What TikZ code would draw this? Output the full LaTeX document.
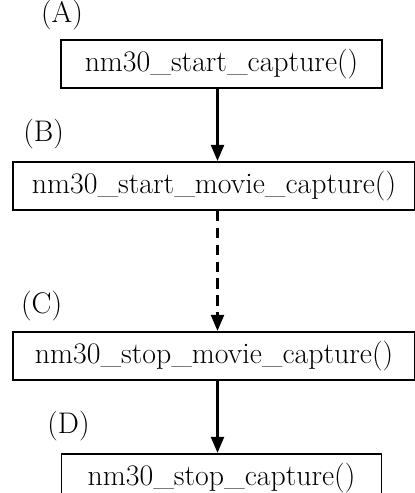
\documentclass[tikz,border=0pt]{standalone}
\usetikzlibrary{arrows.meta,positioning}

\begin{document}
\begin{tikzpicture}[>={Triangle[length=0.4cm,width=0.32cm]}, line width=1.4pt, node distance=1.8cm]
    \tikzstyle{fnbox}=[draw=black,rectangle,minimum height=1.2cm,inner sep=0pt,font=\fontsize{21.2}{24}\selectfont]
    \tikzstyle{tag}=[inner sep=0pt,font=\fontsize{21.2}{24}\selectfont]
    \tikzstyle{flow}=[->,line width=1.9pt]

    \useasboundingbox (0,0) rectangle (10.35,-12.325);

    % calls
    \node[fnbox,minimum width=8.025cm] (startcap) at (5.5375,-1.6) {nm30\_start\_capture()};
    \node[fnbox,minimum width=10.05cm] (startmovie) [below=of startcap,xshift=-0.1875cm] {nm30\_start\_movie\_capture()};
    \node[fnbox,minimum width=10.05cm] (stopmovie) [below=3cm of startmovie] {nm30\_stop\_movie\_capture()};
    \node[fnbox,minimum width=8cm] (stopcap) [below=of stopmovie,xshift=0.1875cm] {nm30\_stop\_capture()};

    % step tags
    \node[tag] (tagA) [above=0.2cm of startcap.north west,xshift=0.05cm] {(A)};
    \node[tag] (tagB) [above=0.275cm of startmovie.north west,xshift=0.79cm] {(B)};
    \node[tag] (tagC) [above=0.225cm of stopmovie.north west,xshift=0.74cm] {(C)};
    \node[tag] (tagD) [above=0.275cm of stopcap.north west,xshift=0.2cm] {(D)};

    % edges
    \draw[flow] ([xshift=-0.1cm]startcap.south) -- ([xshift=-0.1cm]startcap.south |- startmovie.north);
    \draw[flow,dash pattern=on 7.5pt off 4.5pt] ([xshift=0.0875cm]startmovie.south) -- ([xshift=0.0875cm]startmovie.south |- stopmovie.north);
    \draw[flow] ([xshift=-0.1cm]stopcap.north |- stopmovie.south) -- ([xshift=-0.1cm]stopcap.north);

\end{tikzpicture}
\end{document}
